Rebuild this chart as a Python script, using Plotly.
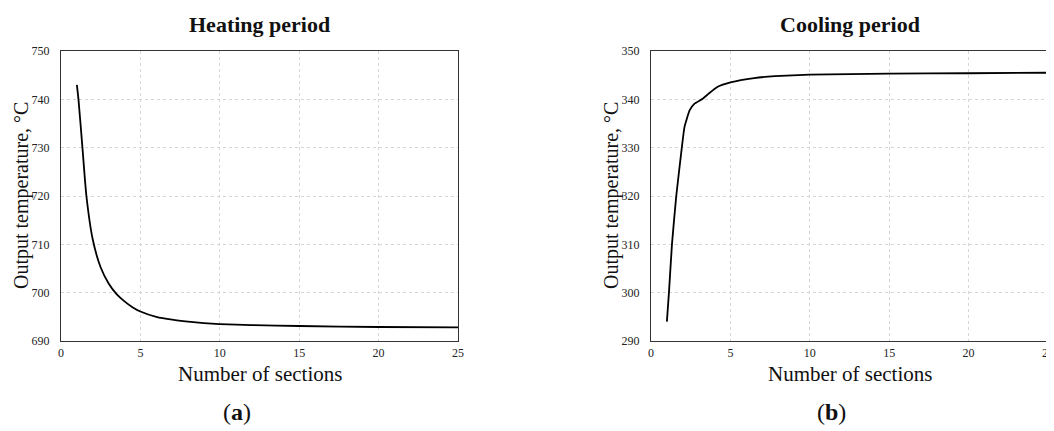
import plotly.graph_objects as go

# Heating period (a)
heat_x = [1, 1.1, 1.35, 1.6, 2, 2.5, 3, 3.5, 4, 4.5, 5, 6, 7, 8, 9, 10, 12, 15, 20, 25]
heat_y = [743.0, 740.0, 730.0, 720.0, 711.0, 705.2, 701.9, 699.7, 698.2, 697.0, 696.1, 695.0,
          694.4, 694.0, 693.7, 693.5, 693.3, 693.1, 692.9, 692.8]

# Cooling period (b)
cool_x = [1, 1.13, 1.32, 1.59, 1.94, 2.11, 2.43, 2.74, 3.25, 3.64, 4.2, 5, 6.5, 7.8, 10, 15, 20, 25]
cool_y = [294.0, 300.0, 310.0, 320.0, 330.0, 334.3, 337.7, 339.1, 340.1, 341.2, 342.6, 343.5,
          344.4, 344.8, 345.1, 345.3, 345.4, 345.5]

titles = ["Heating period", "Cooling period"]
captions = ["(<b>a</b>)", "(<b>b</b>)"]
x_title = "Number of sections"
y_title = "Output temperature, °C"
x_ticks = [0, 5, 10, 15, 20, 25]
heat_ticks = [690, 700, 710, 720, 730, 740, 750]
cool_ticks = [290, 300, 310, 320, 330, 340, 350]

# page has an 8px body margin; figure sized to fit the 1054x431 window
OFF = 8
W, H = 1054 - OFF, 431 - OFF
FONT = "Liberation Serif"


def px_x(p):
    return (p - OFF) / W


def px_y(p):
    return 1 - (p - OFF) / H


fig = go.Figure()
fig.add_trace(go.Scatter(x=heat_x, y=heat_y, mode="lines", line=dict(color="black", width=1.8, shape="spline", smoothing=0.6),
                         xaxis="x", yaxis="y", showlegend=False))
fig.add_trace(go.Scatter(x=cool_x, y=cool_y, mode="lines", line=dict(color="black", width=1.8, shape="spline", smoothing=0.4),
                         xaxis="x2", yaxis="y2", showlegend=False))

# plot areas in page pixels
left_px = (61, 458)
right_px = (651, 1048)
top_px, bot_px = 51, 341
ydom = [px_y(bot_px), px_y(top_px)]

common_axis = dict(showline=True, mirror=True, linecolor="#333", linewidth=1.2,
                   showgrid=True, gridcolor="#d6d6d6", gridwidth=1, griddash="dot",
                   zeroline=False, ticks="", automargin=False,
                   tickfont=dict(family=FONT, size=12, color="#222"))

fig.update_layout(
    template="none",
    width=W, height=H,
    margin=dict(l=0, r=0, t=0, b=0),
    paper_bgcolor="white", plot_bgcolor="white",
    font=dict(family=FONT, color="#111"),
    xaxis=dict(domain=[px_x(left_px[0]), px_x(left_px[1])], range=[0, 25], tickvals=x_ticks, anchor="y", **common_axis),
    yaxis=dict(domain=ydom, range=[690, 750], tickvals=heat_ticks, anchor="x", ticklabelstandoff=8, **common_axis),
    xaxis2=dict(domain=[px_x(right_px[0]), px_x(right_px[1])], range=[0, 25], tickvals=x_ticks, anchor="y2", **common_axis),
    yaxis2=dict(domain=ydom, range=[290, 350], tickvals=cool_ticks, anchor="x2", ticklabelstandoff=8, **common_axis),
)

anns = []
for i, (lp, cap_x) in enumerate([(left_px, 237), (right_px, 831)]):
    cx = (lp[0] + lp[1]) / 2
    anns.append(dict(text="<b>" + titles[i] + "</b>", x=px_x(cx), y=px_y(25), xref="paper", yref="paper",
                     xanchor="center", yanchor="middle", showarrow=False, font=dict(family=FONT, size=22, color="#111")))
    anns.append(dict(text=x_title, x=px_x(cx), y=px_y(374), xref="paper", yref="paper",
                     xanchor="center", yanchor="middle", showarrow=False, font=dict(family=FONT, size=21, color="#111")))
    anns.append(dict(text=y_title, x=px_x(lp[0] - 40), y=px_y(196), xref="paper", yref="paper", textangle=-90,
                     xanchor="center", yanchor="middle", showarrow=False, font=dict(family=FONT, size=20, color="#111")))
    anns.append(dict(text=captions[i], x=px_x(cap_x), y=px_y(412), xref="paper", yref="paper",
                     xanchor="center", yanchor="middle", showarrow=False, font=dict(family=FONT, size=24, color="#111")))
fig.update_layout(annotations=anns)

fig.write_html("out.html")
